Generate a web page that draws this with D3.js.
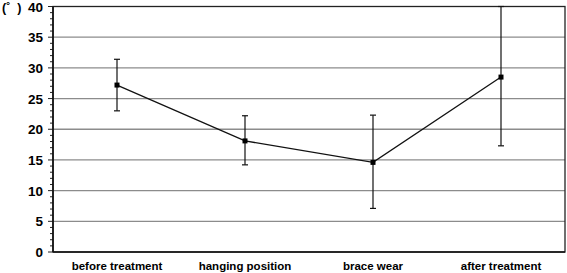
<!DOCTYPE html>
<html><head><meta charset="utf-8">
<script src="https://cdn.jsdelivr.net/npm/d3@7"></script>
<style>body{margin:0;background:#fff}svg{display:block}</style>
</head><body>
<svg id="c" width="567" height="273"></svg>
<script>
const categories = ["before treatment", "hanging position", "brace wear", "after treatment"];
const means = [27.2, 18.1, 14.6, 28.5];
const upper = [31.4, 22.2, 22.3, 40.0];
const lower = [23.0, 14.2, 7.1, 17.3];
const yTicks = [0, 5, 10, 15, 20, 25, 30, 35, 40];
const unitLabel = "(˚  )";

const svg = d3.select("#c");
const L = 53, R = 565, T = 6.5, B = 252;
const x = d3.scaleBand().domain(categories).range([L, R]);
const y = d3.scaleLinear().domain([0, 40]).range([B, T]);
const font = "'Liberation Sans', Arial, sans-serif";

// gridlines
svg.append("g").selectAll("line").data(yTicks.filter(d => d > 0 && d < 40)).join("line")
  .attr("x1", L).attr("x2", R).attr("y1", d => y(d)).attr("y2", d => y(d))
  .attr("stroke", "#8c8c8c").attr("stroke-width", 1.3);

// frame
svg.append("rect").attr("x", L).attr("y", T).attr("width", R - L).attr("height", B - T)
  .attr("fill", "none").attr("stroke", "#222").attr("stroke-width", 1.3);

// y axis with minor ticks
const minor = d3.range(0, 41, 1);
svg.append("g").selectAll("line").data(minor).join("line")
  .attr("x1", L).attr("x2", d => d % 5 === 0 ? L - 5 : L - 3)
  .attr("y1", d => y(d)).attr("y2", d => y(d))
  .attr("stroke", "#222").attr("stroke-width", 1);
svg.append("line").attr("x1", L).attr("x2", L).attr("y1", T).attr("y2", B).attr("stroke", "#111").attr("stroke-width", 1.6);
svg.append("line").attr("x1", L).attr("x2", R).attr("y1", B).attr("y2", B).attr("stroke", "#111").attr("stroke-width", 1.6);

svg.append("g").selectAll("text").data(yTicks).join("text")
  .attr("x", 43).attr("y", d => y(d) + 5).attr("text-anchor", "end")
  .attr("font-family", font).attr("font-weight", "bold").attr("font-size", 13.5)
  .text(d => d);

svg.append("text").attr("x", 2).attr("y", 12).attr("font-family", font).attr("font-weight", "bold")
  .attr("font-size", 12.5).attr("xml:space", "preserve").style("white-space", "pre").text(unitLabel);

// x labels
svg.append("g").selectAll("text").data(categories).join("text")
  .attr("x", d => x(d) + x.bandwidth() / 2).attr("y", 270).attr("text-anchor", "middle")
  .attr("font-family", font).attr("font-weight", "bold").attr("font-size", 11.5)
  .text(d => d);

const cx = i => x(categories[i]) + x.bandwidth() / 2;
// error bars
const eb = svg.append("g").attr("stroke", "#111").attr("stroke-width", 1.2);
categories.forEach((c, i) => {
  eb.append("line").attr("x1", cx(i)).attr("x2", cx(i)).attr("y1", y(upper[i])).attr("y2", y(lower[i]));
  eb.append("line").attr("x1", cx(i) - 3).attr("x2", cx(i) + 3).attr("y1", y(upper[i])).attr("y2", y(upper[i]));
  eb.append("line").attr("x1", cx(i) - 3).attr("x2", cx(i) + 3).attr("y1", y(lower[i])).attr("y2", y(lower[i]));
});

// line
svg.append("path").datum(means)
  .attr("d", d3.line().x((d, i) => cx(i)).y(d => y(d)))
  .attr("fill", "none").attr("stroke", "#111").attr("stroke-width", 1.3);

svg.append("g").selectAll("rect").data(means).join("rect")
  .attr("x", (d, i) => cx(i) - 2.5).attr("y", d => y(d) - 2.5)
  .attr("width", 5).attr("height", 5).attr("fill", "#000");
</script>
</body></html>
